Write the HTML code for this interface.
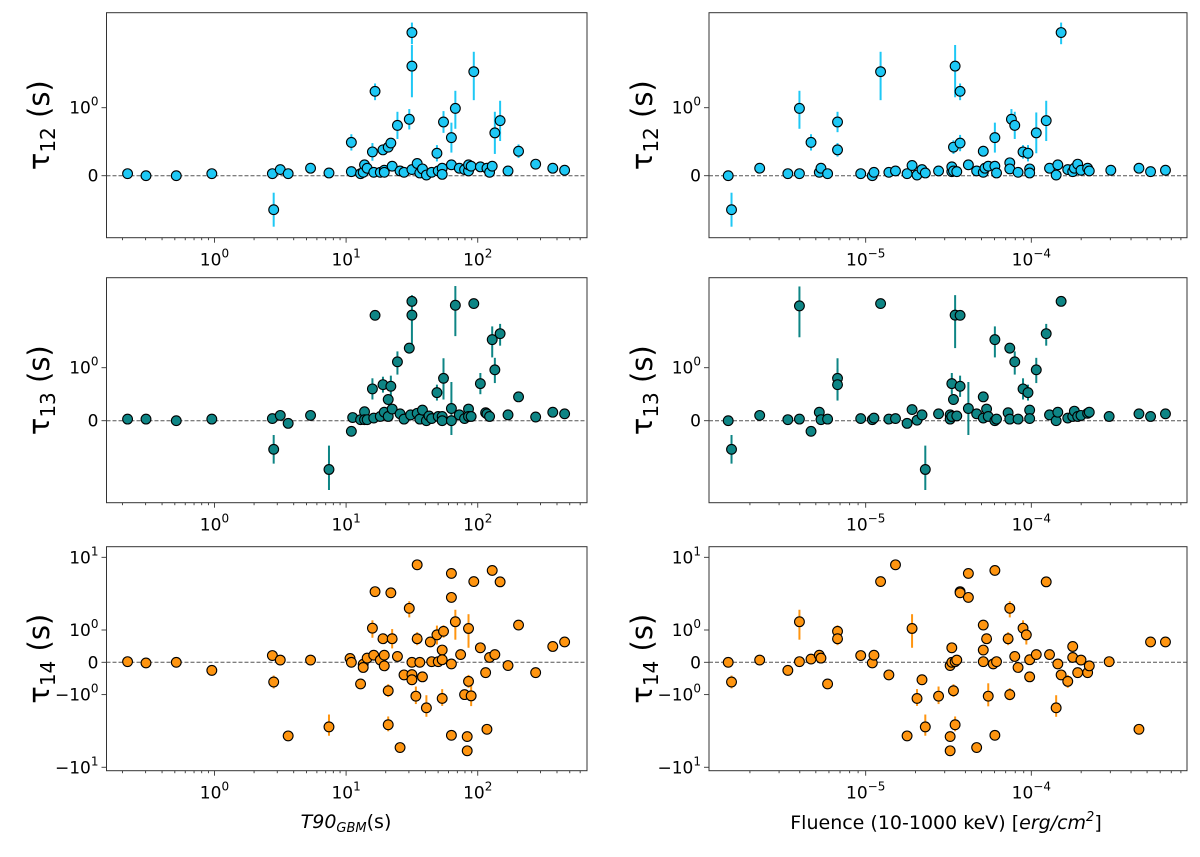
<!DOCTYPE html>
<html><head><meta charset="utf-8"><style>
body{margin:0;background:#fff}
svg{display:block;font-family:"DejaVu Sans","Liberation Sans",sans-serif}
</style></head><body>
<svg id="fig" width="1200" height="857" viewBox="0 0 1200 857" xmlns="http://www.w3.org/2000/svg"></svg>
<script>
// ---- data (x as log10 values, tau in seconds) ----
const t90Log_12 = [-0.66,-0.52,-0.29,-0.02,0.44,0.45,0.50,0.56,0.73,0.87,1.04,1.04,1.11,1.13,1.14,1.16,1.20,1.21,1.22,1.26,1.28,1.29,1.29,1.32,1.34,1.35,1.39,1.41,1.44,1.48,1.50,1.50,1.50,1.54,1.56,1.58,1.61,1.65,1.69,1.70,1.73,1.73,1.74,1.80,1.80,1.83,1.86,1.90,1.93,1.93,1.95,1.97,2.02,2.07,2.09,2.11,2.13,2.17,2.23,2.31,2.44,2.57,2.66];
const tau12_T = [0.03,0,0,0.03,0.03,-0.5,0.09,0.03,0.11,0.04,0.06,0.49,0.03,0.05,0.16,0.11,0.35,0.05,1.28,0.05,0.38,0.08,0.05,0.42,0.48,0.14,0.74,0.07,0.05,0.83,0.09,1.87,3.1,0.18,0.04,0.10,0.01,0.05,0.33,0.07,0.11,0.02,0.79,0.16,0.56,0.99,0.11,0.09,0.07,0.16,0.14,1.72,0.13,0.11,0.05,0.14,0.63,0.81,0.07,0.36,0.17,0.11,0.08];
const err12_T = [0,0,0,0,0,.25,0,0,0,0,0,.12,0,0,0,0,.13,0,.16,0,.06,0,0,.07,.07,0,.2,0,0,.15,0,.7,.5,0,0,0,0,0,.12,0,0,0,.16,0,.22,.3,0,0,0,0,0,.6,0,0,0,0,.31,.3,0,.1,0,0,0];

const t90Log_13 = [-0.66,-0.52,-0.29,-0.02,0.44,0.45,0.50,0.56,0.73,0.87,1.04,1.05,1.11,1.14,1.14,1.16,1.20,1.21,1.22,1.26,1.28,1.29,1.32,1.32,1.34,1.35,1.39,1.41,1.44,1.48,1.49,1.50,1.50,1.54,1.56,1.58,1.61,1.63,1.65,1.69,1.70,1.73,1.73,1.74,1.80,1.80,1.83,1.86,1.90,1.93,1.93,1.95,1.97,2.02,2.06,2.07,2.09,2.11,2.13,2.17,2.23,2.31,2.44,2.57,2.66];
const tau13_T = [0.03,0.03,0,0.03,0.04,-0.54,0.10,-0.05,0.10,-0.92,-0.2,0.06,0.02,0.17,0.02,0.02,0.6,0.05,2.75,0.08,0.68,0.16,0.08,0.4,0.65,0.22,1.12,0.13,0.03,1.46,0.11,2.76,3.6,0.14,0.03,0.2,0,0.09,0.04,0.53,0.08,0.08,0,0.8,0.23,0,3.34,0.11,0.04,0.22,0.08,0.08,3.45,0.7,0.15,0.13,0.08,1.72,0.96,1.93,0.11,0.45,0.07,0.16,0.13];
const err13_T = [0,0,0,0,0,.27,0,0,0,.45,0,0,0,0,0,0,.2,0,.2,0,.15,0,0,.1,.2,0,.25,0,0,.15,0,1.3,.3,0,0,0,0,0,0,.15,0,0,0,.4,.5,0,1.5,0,0,0,0,0,.2,.2,0,0,0,.5,.25,.4,0,.08,0,0,0];

const t90Log_14 = [-0.66,-0.52,-0.29,-0.02,0.44,0.45,0.50,0.56,0.73,0.87,1.03,1.04,1.11,1.13,1.13,1.16,1.20,1.21,1.22,1.26,1.28,1.29,1.29,1.32,1.32,1.34,1.35,1.39,1.41,1.44,1.48,1.50,1.50,1.50,1.54,1.54,1.53,1.56,1.58,1.61,1.64,1.65,1.69,1.70,1.73,1.73,1.73,1.74,1.80,1.80,1.80,1.80,1.83,1.87,1.90,1.93,1.93,1.92,1.92,1.95,1.97,2.02,2.06,2.07,2.09,2.11,2.13,2.17,2.23,2.31,2.44,2.57,2.66];
const tau14_T = [.02,-.02,0,-.25,.21,-.61,.07,-3.7,.07,-2.78,.12,0,-.67,-.06,-.16,.13,1.06,.22,3.37,.07,.73,.22,-.11,-.88,-2.6,3.25,.73,.18,-5.35,-.39,1.99,-.38,-.54,0,.73,7.9,-1.05,0,-.45,-1.52,.63,.02,.85,.02,.38,.08,-1.13,.96,2.81,6.0,-.05,-3.63,1.3,.24,-1.0,1.05,-.59,-3.78,-5.93,-1.04,4.64,.45,-.32,-3.0,.15,6.6,.24,4.6,-.1,1.17,-.32,.49,.63];
const err14_T = [0,0,0,0,0,.2,0,.5,0,.9,0,0,.15,0,0,0,.3,0,0,0,.15,0,0,.2,.6,.4,.3,0,.6,0,.5,0,0,0,.2,1.2,.3,0,0,.5,0,0,.3,0,0,0,.3,.2,.4,.6,0,0,.6,0,0,.6,.2,.5,.8,.4,0,0,0,.4,0,.7,0,.4,0,0,0,.1,0];

const fluLog_12 = [-5.83,-5.81,-5.64,-5.47,-5.40,-5.40,-5.33,-5.28,-5.27,-5.23,-5.17,-5.17,-5.03,-4.96,-4.95,-4.91,-4.86,-4.82,-4.75,-4.72,-4.69,-4.66,-4.64,-4.56,-4.48,-4.48,-4.47,-4.47,-4.46,-4.45,-4.43,-4.43,-4.38,-4.33,-4.29,-4.29,-4.28,-4.26,-4.22,-4.22,-4.21,-4.13,-4.13,-4.12,-4.10,-4.08,-4.05,-4.02,-4.01,-4.01,-3.97,-3.91,-3.89,-3.85,-3.84,-3.82,-3.78,-3.75,-3.74,-3.72,-3.70,-3.66,-3.65,-3.52,-3.35,-3.28,-3.19];
const tau12_F = [0,-.5,.11,.03,.03,.99,.49,.05,.11,.03,.79,.38,.03,0,.05,1.72,.05,.07,.03,.15,.01,.09,.04,.07,.06,.13,.07,.42,1.87,.06,.48,1.28,.16,.07,.36,.05,.11,.14,.56,.14,.04,.19,.10,.83,.74,.05,.35,.33,.10,.04,.63,.81,.11,.01,.16,3.1,.09,.06,.11,.17,.08,.11,.07,.08,.11,.06,.08];
const err12_F = [0,.25,0,0,0,.3,.12,0,0,0,.15,.1,0,0,0,.6,0,0,0,0,0,0,0,0,0,0,0,.1,.7,0,.12,.16,0,0,.08,0,0,0,.22,0,0,0,0,.15,.2,0,.1,.12,0,0,.3,.3,0,0,0,.5,0,0,0,0,0,0,0,0,0,0,0];

const fluLog_13 = [-5.83,-5.81,-5.64,-5.47,-5.40,-5.40,-5.33,-5.28,-5.27,-5.23,-5.17,-5.17,-5.03,-4.96,-4.95,-4.91,-4.86,-4.82,-4.75,-4.72,-4.69,-4.66,-4.64,-4.56,-4.49,-4.49,-4.48,-4.48,-4.47,-4.46,-4.45,-4.43,-4.43,-4.38,-4.33,-4.29,-4.29,-4.27,-4.26,-4.22,-4.22,-4.21,-4.14,-4.13,-4.13,-4.10,-4.08,-4.05,-4.02,-4.01,-4.01,-3.97,-3.91,-3.89,-3.85,-3.84,-3.82,-3.78,-3.75,-3.74,-3.72,-3.70,-3.66,-3.65,-3.53,-3.35,-3.28,-3.19];
const tau13_F = [0,-.54,.10,.02,.03,3.3,-.2,.16,.02,.03,.8,.68,.04,.02,.05,3.45,.03,.04,-.05,.21,.01,.11,-.92,.13,.11,.03,.08,.7,.4,2.76,.09,.65,2.75,.23,.13,.45,.05,.22,.08,1.72,0,.03,.15,.03,1.46,1.12,.03,.6,.53,.2,.04,.96,1.93,.11,0,.16,3.6,.05,.08,.18,.08,.10,.14,.16,.08,.13,.08,.13];
const err13_F = [0,.27,0,0,0,1.5,0,0,0,0,.4,.3,0,0,0,.2,0,0,0,0,0,0,.45,0,0,0,0,.2,.1,1.3,0,.2,.2,.5,0,.08,0,0,0,.5,0,0,0,0,.15,.25,0,.2,.15,0,0,.25,.4,0,0,0,.3,0,0,0,0,0,0,0,0,0,0,0];

const fluLog_14 = [-5.83,-5.81,-5.64,-5.47,-5.40,-5.40,-5.33,-5.28,-5.27,-5.23,-5.17,-5.17,-5.03,-4.96,-4.95,-4.91,-4.86,-4.82,-4.75,-4.72,-4.69,-4.66,-4.64,-4.56,-4.49,-4.49,-4.49,-4.48,-4.48,-4.47,-4.46,-4.46,-4.45,-4.43,-4.43,-4.38,-4.38,-4.33,-4.29,-4.29,-4.29,-4.27,-4.26,-4.23,-4.22,-4.22,-4.21,-4.14,-4.13,-4.13,-4.10,-4.08,-4.05,-4.03,-4.01,-4.01,-3.97,-3.91,-3.89,-3.85,-3.84,-3.82,-3.78,-3.75,-3.75,-3.72,-3.70,-3.66,-3.65,-3.53,-3.35,-3.28,-3.19];
const tau14_F = [0,-.61,.07,-.25,.02,1.3,.1,.22,.13,-.67,.96,.73,.21,-.02,.22,4.64,-.39,7.9,-3.7,1.05,-1.13,-.54,-2.78,-1.05,-.1,-3.78,-5.93,0,.45,-.88,-2.6,.02,.07,3.37,3.25,6.0,2.81,-5.35,1.17,.38,.02,.73,-1.05,-.05,6.6,-3.63,.02,.73,-1.0,1.99,.18,-.16,1.06,.85,-.45,.08,.24,4.6,.24,-1.52,-.05,-.39,-.59,.49,.15,-.32,.07,-.32,-.11,.02,-3.0,.63,.63];
const err14_F = [0,.2,0,0,0,.6,0,0,0,.15,.2,.2,0,0,0,0,0,1.2,.5,.6,.3,0,.9,.3,0,.5,.8,0,.1,.2,.6,0,0,0,0,.6,.4,.6,0,0,0,.15,.4,0,.7,0,0,.2,.2,.5,0,0,.3,.3,0,0,0,.4,0,.5,0,0,.2,.1,0,0,0,0,0,0,.4,0,0];

const leftTicks = [0,1,2];
const rightTicks = [-5,-4];
const yTicksTop = [0,1];
const yTicksBottom = [-10,-1,0,1,10];

// ---- layout ----
const NS='http://www.w3.org/2000/svg';
const svg=document.getElementById('fig');
function mk(tag,attrs,parent){const e=document.createElementNS(NS,tag);for(const k in attrs)e.setAttribute(k,attrs[k]);(parent||svg).appendChild(e);return e;}
const cols=[{x0:106.5,x1:587,lmin:-0.82,lmax:2.83,ticks:leftTicks},{x0:709,x1:1187,lmin:-5.946,lmax:-3.06,ticks:rightTicks}];
const rows=[{y0:12.7,y1:237.7,zero:175.7,L:68,ticks:yTicksTop,sub:'12'},{y0:277.7,y1:502.7,zero:420.7,L:53,ticks:yTicksTop,sub:'13'},{y0:546.7,y1:770.7,zero:662.3,L:32.3,ticks:yTicksBottom,sub:'14'}];
const colors=['#1ec8f5','#0e8585','#ff9510'];
function sym(v){const a=Math.abs(v);return a<=1?v:Math.sign(v)*(1+2.25*Math.log10(a));}
function xScale(c,l){return c.x0+(l-c.lmin)/(c.lmax-c.lmin)*(c.x1-c.x0);}
function yScale(r,v){return r.zero-sym(v)*r.L;}
function sup(t,base,exp){t.textContent='';const a=mk('tspan',{},t);a.textContent=base;const b=mk('tspan',{dy:'-8','font-size':'12'},t);b.textContent=exp;}

const panels=[
 [t90Log_12,tau12_T,err12_T],[fluLog_12,tau12_F,err12_F],
 [t90Log_13,tau13_T,err13_T],[fluLog_13,tau13_F,err13_F],
 [t90Log_14,tau14_T,err14_T],[fluLog_14,tau14_F,err14_F]];

rows.forEach((r,ri)=>{cols.forEach((c,ci)=>{
  const g=mk('g',{});
  
  
  const zl=mk('line',{x1:c.x0,x2:c.x1,y1:r.zero,y2:r.zero,stroke:'#555','stroke-width':1,'stroke-dasharray':'4,2'},g);
  
  
  const [xs,ys,es]=panels[ri*2+ci];
  const col=colors[ri];
  xs.forEach((lx,i)=>{
    const px=xScale(c,lx),v=ys[i],e=es[i]||0;
    if(e>0){const eb=mk('line',{x1:px,x2:px,y1:yScale(r,v-e),y2:yScale(r,v+e),stroke:col,'stroke-width':2},g);
      
      }
  });
  xs.forEach((lx,i)=>{
    const pt=mk('circle',{cx:xScale(c,lx),cy:yScale(r,ys[i]),r:4.9,fill:col,stroke:'#000','stroke-width':1.1},g);
    
    
  });
  const fr=mk('rect',{x:c.x0,y:r.y0,width:c.x1-c.x0,height:r.y1-r.y0,fill:'none',stroke:'#333','stroke-width':1},g);
  
  
  for(let d=Math.floor(c.lmin);d<=Math.ceil(c.lmax);d++){
    for(let k=1;k<10;k++){const l=d+Math.log10(k);if(l<c.lmin||l>c.lmax)continue;
      const px=xScale(c,l);mk('line',{x1:px,x2:px,y1:r.y1,y2:r.y1+(k===1?5:2.5),stroke:'#333','stroke-width':0.9},g);}
  }
  c.ticks.forEach(t=>{const px=xScale(c,t);
    const tx=mk('text',{x:px,y:r.y1+28,'text-anchor':'middle','font-size':'17',fill:'#000'},g);
    
    
    sup(tx,'10',String(t).replace('-','\u2212'));});
  r.ticks.forEach(t=>{const py=yScale(r,t);
    mk('line',{x1:c.x0-5,x2:c.x0,y1:py,y2:py,stroke:'#333','stroke-width':0.9},g);
    const tx=mk('text',{x:c.x0-8,y:py+6,'text-anchor':'end','font-size':'17',fill:'#000'},g);
    
    
    if(t===0)tx.textContent='0';
    else{const a=Math.abs(t);sup(tx,(t<0?'\u221210':'10'),a===1?'0':'1');}
  });
  const cy=(r.y0+r.y1)/2, lx=ci?643:40;
  const yl=mk('text',{x:0,y:0,transform:`translate(${lx+9},${cy}) rotate(-90)`,'text-anchor':'middle','font-size':'29',fill:'#000'},g);
  
  
  const a=mk('tspan',{},yl);a.textContent='\u03c4';
  const b=mk('tspan',{dy:'6','font-size':'20'},yl);b.textContent=r.sub;
  const cc=mk('tspan',{dy:'-6'},yl);cc.textContent=' (s)';
});});

const xl1=mk('text',{x:346,y:828,'text-anchor':'middle','font-size':'19',fill:'#000'});


(function(){const a=mk('tspan',{'font-style':'italic'},xl1);a.textContent='T90';
const b=mk('tspan',{dy:'4','font-size':'13','font-style':'italic'},xl1);b.textContent='GBM';
const c=mk('tspan',{dy:'-4'},xl1);c.textContent='(s)';})();
const xl2=mk('text',{x:946,y:829,'text-anchor':'middle','font-size':'19',fill:'#000'});


(function(){const a=mk('tspan',{},xl2);a.textContent='Fluence (10-1000 keV) [';
const b=mk('tspan',{'font-style':'italic'},xl2);b.textContent='erg/cm';
const c=mk('tspan',{dy:'-8','font-size':'13','font-style':'italic'},xl2);c.textContent='2';
const d=mk('tspan',{dy:'8'},xl2);d.textContent=']';})();
</script>
</body></html>
